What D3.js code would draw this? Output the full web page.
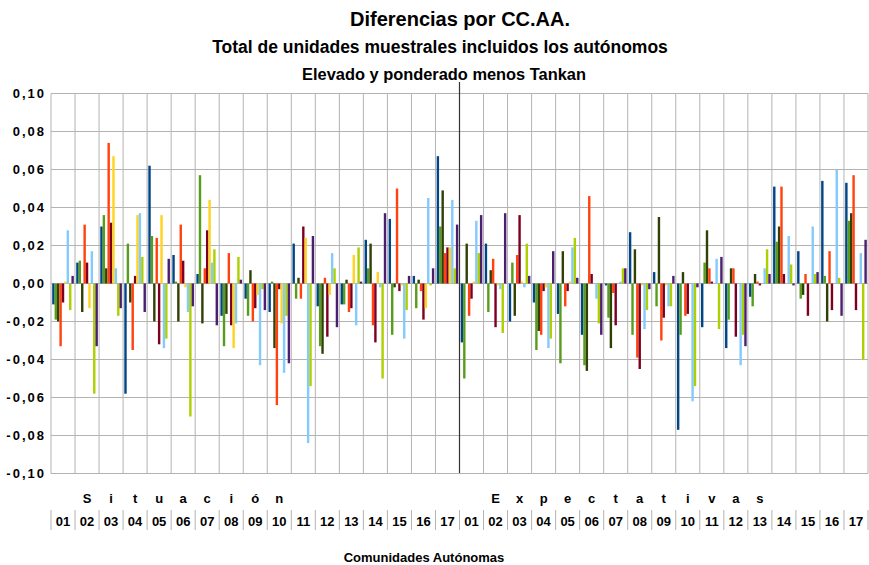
<!DOCTYPE html>
<html>
<head>
<meta charset="utf-8">
<script src="https://cdn.jsdelivr.net/npm/d3@7"></script>
<style>
  body { margin: 0; background: #fff; }
  text { font-family: "Liberation Sans", Arial, sans-serif; font-weight: bold; fill: #000; }
</style>
</head>
<body>
<div id="svg"></div>
<script>
// group labels (two blocks of 17 regions)
var numbers = ["01","02","03","04","05","06","07","08","09","10","11","12","13","14","15","16","17",
               "01","02","03","04","05","06","07","08","09","10","11","12","13","14","15","16","17"];
var letters = ["","S","i","t","u","a","c","i","ó","n","","","","","","","",
               "","E","x","p","e","c","t","a","t","i","v","a","s","","","",""];
var yTicks = [0.10,0.08,0.06,0.04,0.02,0,-0.02,-0.04,-0.06,-0.08,-0.10];

// series values, one per bar colour
var s1 = [-0.011,0.011,0.030,-0.058,0.062,0.015,0.005,-0.017,-0.008,-0.015,0.021,-0.012,-0.011,0.023,0.034,0.004,0.067,
          -0.031,0.021,-0.020,-0.010,-0.016,-0.027,-0.001,0.027,0.006,-0.077,-0.023,-0.034,-0.007,0.051,0.017,0.054,0.053];
var s2 = [-0.019,0.012,0.036,0.021,0.025,0.001,0.057,-0.033,-0.017,0.001,-0.008,-0.033,-0.011,0.008,-0.027,-0.013,0.030,
          -0.050,-0.015,0.011,-0.035,-0.042,-0.043,-0.018,-0.027,-0.012,-0.027,0.011,-0.019,-0.012,0.022,-0.008,0.004,0.033];
var s3 = [-0.020,-0.015,0.008,-0.010,-0.020,-0.020,-0.021,-0.016,0.007,-0.034,0.003,-0.037,0.002,0.021,-0.002,0.002,0.049,
          0.021,0.007,-0.017,-0.025,0.017,-0.046,-0.034,0.018,0.035,0.006,0.028,0.008,0.005,0.030,-0.006,-0.020,0.037];
var s4 = [-0.033,0.031,0.074,-0.035,0.024,0.031,0.008,0.016,-0.020,-0.064,-0.008,0.003,-0.015,-0.022,0.050,-0.004,0.016,
          -0.017,0.013,0.015,-0.027,-0.012,0.046,-0.005,-0.039,-0.030,-0.017,0.008,0.008,0.001,0.051,0.005,0.017,0.057];
var s5 = [-0.010,0.011,0.032,0.004,-0.032,0.012,0.028,-0.022,-0.013,-0.003,0.030,-0.028,-0.013,-0.031,-0.004,-0.019,0.019,
          -0.008,-0.023,0.036,-0.004,-0.004,0.005,-0.022,-0.045,-0.018,-0.016,0.001,-0.028,-0.001,0.005,-0.017,-0.014,-0.014];
var s6 = [0.001,-0.013,0.067,0.036,0.036,-0.002,0.044,-0.034,-0.006,-0.021,0.024,-0.006,0.015,0.006,-0.001,-0.013,0.019,
          0.001,-0.001,0.001,-0.002,0.001,0,0,-0.001,-0.001,0,0,0,0,0,0,0,0];
var s7 = [0.028,0.017,0.008,0.037,-0.034,-0.015,0.011,-0.021,-0.043,-0.047,-0.084,0.016,-0.022,-0.002,-0.029,0.045,0.044,
          0.033,-0.003,-0.002,-0.034,0.019,-0.008,0.001,-0.024,-0.012,-0.062,0.013,-0.043,0.008,0.025,0.030,0.060,0.016];
var s8 = [-0.014,-0.058,-0.017,0.014,-0.029,-0.070,0.018,0.014,-0.003,-0.017,-0.054,0.008,0.019,-0.050,-0.014,-0.001,0.008,
          0.016,-0.026,0.021,-0.029,0.024,-0.021,0.008,-0.014,-0.012,-0.054,-0.024,-0.027,0.018,0.010,0.005,0.003,-0.040];
var s9 = [0.004,-0.033,-0.013,-0.015,0.013,-0.012,-0.022,0.002,-0.014,-0.042,0.025,-0.023,0.001,0.037,0.004,0.008,0.031,
          0.036,0.037,0.004,0.017,0.003,-0.027,0.008,-0.003,0.004,-0.002,0.014,-0.033,0.005,-0.001,0.006,-0.017,0.023];
var series = [s1,s2,s3,s4,s5,s6,s7,s8,s9];
var colors = ["#004586","#579d1c","#314004","#ff420e","#7e0021","#ffd320","#83caff","#aecf00","#4b1f6f"];

var svgWidth = 869, svgHeight = 565;
var plotLeft = 51, plotRight = 868, plotTop = 93.5, plotBottom = 473.5;

var svg = d3.select("#svg").append("svg")
    .attr("width", svgWidth)
    .attr("height", svgHeight);

var x0 = d3.scaleBand().domain(d3.range(numbers.length)).range([plotLeft, plotRight]);
var x1 = d3.scaleBand().domain(d3.range(series.length)).range([0, x0.bandwidth()]).paddingOuter(0.5);
var y = d3.scaleLinear().domain([-0.1, 0.1]).range([plotBottom, plotTop]);

// horizontal grid
svg.append("g").selectAll("line").data(yTicks).enter().append("line")
    .attr("x1", plotLeft).attr("x2", plotRight)
    .attr("y1", d => y(d)).attr("y2", d => y(d))
    .attr("stroke", "#b3b3b3").attr("stroke-width", 1);

// vertical grid at group boundaries
svg.append("g").selectAll("line").data(d3.range(numbers.length + 1)).enter().append("line")
    .attr("x1", d => plotLeft + d * x0.step()).attr("x2", d => plotLeft + d * x0.step())
    .attr("y1", plotTop).attr("y2", plotBottom)
    .attr("stroke", "#b3b3b3").attr("stroke-width", 1);

// bars
var groups = svg.append("g").selectAll("g").data(d3.range(numbers.length)).enter().append("g")
    .attr("transform", d => `translate(${x0(d)},0)`);
groups.selectAll("rect")
    .data(g => series.map((s, i) => ({i: i, v: s[g]})))
    .enter().append("rect")
    .attr("x", d => x1(d.i))
    .attr("width", x1.bandwidth())
    .attr("y", d => y(Math.max(0, d.v)))
    .attr("height", d => Math.abs(y(d.v) - y(0)))
    .attr("fill", d => colors[d.i]);

// separator between the two blocks
svg.append("line")
    .attr("x1", plotLeft + 17 * x0.step()).attr("x2", plotLeft + 17 * x0.step())
    .attr("y1", 82).attr("y2", plotBottom)
    .attr("stroke", "#333").attr("stroke-width", 1.2);

// y axis labels
var yAxis = d3.axisLeft(y).tickValues(yTicks).tickSize(0).tickPadding(5)
    .tickFormat(d => d3.format(".2f")(d).replace(".", ",").replace("−", "-"));
var ya = svg.append("g").attr("transform", `translate(${plotLeft},0)`).call(yAxis);
ya.select(".domain").remove();
ya.selectAll("text").attr("font-size", 13)
    .style("font-family", "Liberation Sans, Arial, sans-serif")
    .style("font-weight", "bold")
    .style("letter-spacing", "2px");

// category table below the plot
var cat = svg.append("g");
cat.append("line").attr("x1", plotLeft).attr("x2", plotRight).attr("y1", plotBottom).attr("y2", plotBottom).attr("stroke", "#b3b3b3");
cat.selectAll(".sep").data(d3.range(numbers.length + 1)).enter().append("line")
    .attr("x1", d => plotLeft + d * x0.step()).attr("x2", d => plotLeft + d * x0.step())
    .attr("y1", 510).attr("y2", 530)
    .attr("stroke", "#b3b3b3");
cat.selectAll(".num").data(numbers).enter().append("text")
    .attr("x", (d, i) => x0(i) + x0.bandwidth() / 2)
    .attr("y", 526)
    .attr("text-anchor", "middle")
    .attr("font-size", 13)
    .text(d => d);
cat.selectAll(".let").data(letters).enter().append("text")
    .attr("x", (d, i) => x0(i) + x0.bandwidth() / 2)
    .attr("y", 503)
    .attr("text-anchor", "middle")
    .attr("font-size", 13)
    .text(d => d);

// titles
svg.append("text").attr("x", 460).attr("y", 26).attr("text-anchor", "middle").attr("font-size", 20).text("Diferencias por CC.AA.");
svg.append("text").attr("x", 440).attr("y", 53).attr("text-anchor", "middle").attr("font-size", 17.5).text("Total de unidades muestrales incluidos los autónomos");
svg.append("text").attr("x", 444).attr("y", 80).attr("text-anchor", "middle").attr("font-size", 16.4).text("Elevado y ponderado menos Tankan");
svg.append("text").attr("x", 424).attr("y", 562).attr("text-anchor", "middle").attr("font-size", 13).text("Comunidades Autónomas");
</script>
</body>
</html>
